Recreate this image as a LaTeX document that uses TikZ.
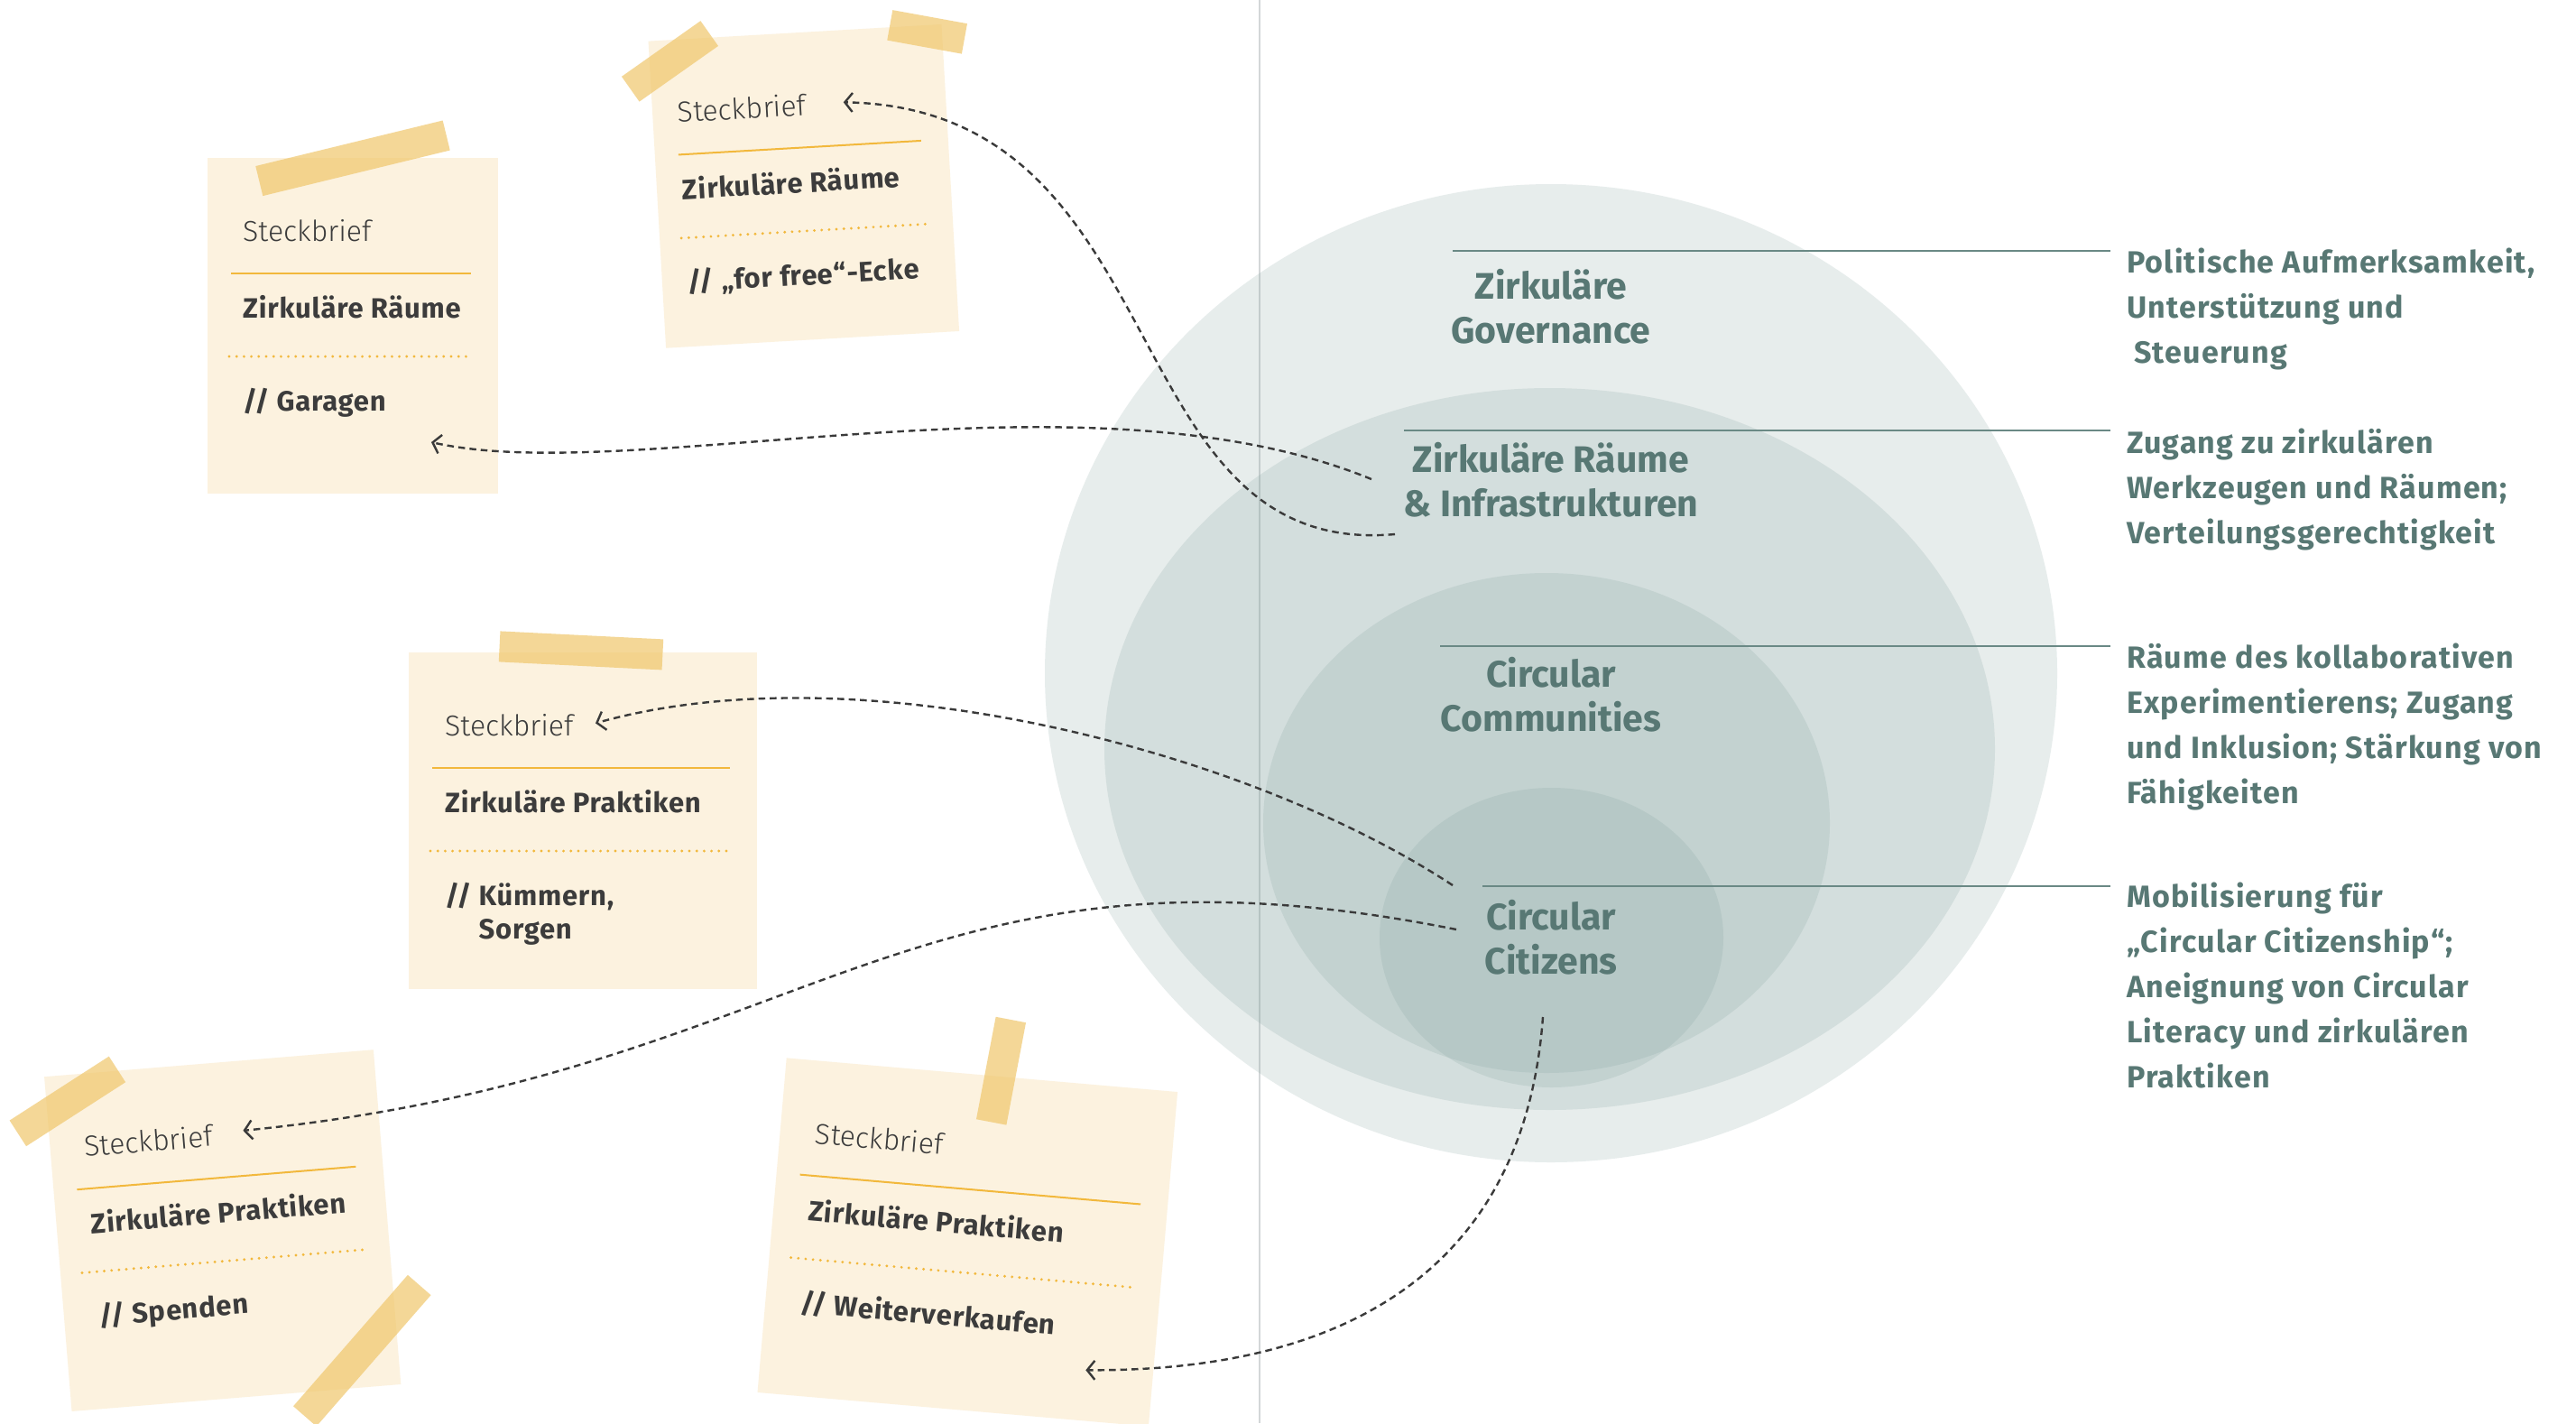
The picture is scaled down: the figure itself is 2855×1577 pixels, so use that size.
\documentclass[tikz,border=0pt]{standalone}
\usepackage{fontspec}
\setmainfont{Fira Sans}
\newfontfamily\descfont{Fira Sans}[LetterSpace=3.5]
\newfontfamily\notefont{Fira Sans}[LetterSpace=2.5]
\newfontfamily\headfont{Fira Sans Light}
\usetikzlibrary{arrows.meta}

\definecolor{ringfill}{HTML}{7D9D9A}
\definecolor{tealtext}{HTML}{587874}
\definecolor{ruleline}{HTML}{6A8985}
\definecolor{paper}{HTML}{FCF2DF}
\definecolor{tapecol}{HTML}{EFC567}
\definecolor{gold}{HTML}{F2B83C}
\definecolor{ink}{HTML}{3C3C3C}
\definecolor{connink}{HTML}{3A3A3A}
\definecolor{divline}{HTML}{D3D7D8}

% a sticky note: name, centre, rotation, width, height, text inset, title, item, arrow target (local)
\newcommand\notecard[9]{%
  \begin{scope}[shift={#2}, rotate=#3, transform shape]
    \begin{scope}[shift={(-#4/2,-#5/2)}]
      \node[paperbox, anchor=north west, minimum width=#4pt, minimum height=#5pt] (#1) at (0,0) {};
      \node[cardhead] (#1-head) at (#6,92) {Steckbrief};
      \draw[solidsep] (26,127.5) -- (#4-30,127.5);
      \node[cardtitle] (#1-title) at (#6,177.5) {#7};
      \draw[dotsep] (24,220) -- (#4-30,220);
      \node[cardtitle] (#1-item) at (#6,280) {#8};
      \coordinate (#1-tip) at #9;
    \end{scope}
  \end{scope}}

% a strip of adhesive tape: centre, rotation, length
\newcommand\tapestrip[3]{\fill[tape, shift={#1}, rotate=#2] (-#3/2,-17) rectangle (#3/2,17);}

\begin{document}
\begin{tikzpicture}[x=1pt,y=-1pt,
  ring/.style={fill=ringfill, fill opacity=0.18, draw=none},
  % multi-line nodes sit on the baseline of their last line
  ringlabel/.style={text=tealtext, font=\fontsize{41}{49}\selectfont\bfseries, align=center, anchor=base, inner sep=0pt},
  desc/.style={text=tealtext, font=\descfont\fontsize{34}{50}\selectfont\bfseries, align=left, anchor=base west, inner sep=0pt},
  rule/.style={draw=ruleline, line width=2pt},
  paperbox/.style={fill=paper, draw=none, inner sep=0pt, outer sep=0pt},
  tape/.style={fill=tapecol, fill opacity=0.68},
  solidsep/.style={draw=gold, line width=2pt},
  dotsep/.style={draw=gold, line width=3.2pt, line cap=round, dash pattern=on 0pt off 8.2pt},
  cardhead/.style={text=ink, font=\headfont\fontsize{32}{38}\selectfont, anchor=base west, inner sep=0pt},
  cardtitle/.style={text=ink, font=\notefont\fontsize{31}{37}\selectfont\bfseries, anchor=base west, inner sep=0pt},
  conn/.style={draw=connink, line width=2.4pt, dash pattern=on 7.5pt off 5pt, -{Straight Barb[length=8.5pt,width=21pt]}},
]
\useasboundingbox (0,0) rectangle (2855,1577);
\clip (0,0) rectangle (2855,1577);
\fill[white] (0,0) rectangle (2855,1577);

% separator between notes and model
\draw[draw=divline, line width=2pt] (1396,0) -- (1396,1577);

% nested rings
\path[ring] (1719,746) ellipse [x radius=561pt, y radius=542pt];
\path[ring] (1717.5,830) ellipse [x radius=493.5pt, y radius=400pt];
\path[ring] (1714,912) ellipse [x radius=314pt, y radius=277pt];
\path[ring] (1719.5,1039) ellipse [x radius=190.5pt, y radius=166pt];

% ring labels
\node[ringlabel] (gov) at (1719,380) {Zirkuläre\\Governance};
\node[ringlabel] (spaces) at (1719,572) {Zirkuläre Räume\\\& Infrastrukturen};
\node[ringlabel] (comm) at (1719,810) {Circular\\Communities};
\node[ringlabel] (cit) at (1719,1079) {Circular\\Citizens};

% leader rules
\draw[rule] (1610,277.5) coordinate (r1a) -- (2339,277.5) coordinate (r1b);
\draw[rule] (1556,476.5) coordinate (r2a) -- (2339,476.5) coordinate (r2b);
\draw[rule] (1596,716) coordinate (r3a) -- (2339,716) coordinate (r3b);
\draw[rule] (1643,982) coordinate (r4a) -- (2339,982) coordinate (r4b);

% descriptions
\node[desc] (d1) at (2357,402) {Politische Aufmerksamkeit,\\Unterstützung und\\\hspace*{8pt}Steuerung};
\node[desc] (d2) at (2357,602) {Zugang zu zirkulären\\Werkzeugen und Räumen;\\Verteilungsgerechtigkeit};
\node[desc] (d3) at (2357,890) {Räume des kollaborativen\\Experimentierens; Zugang\\und Inklusion; Stärkung von\\Fähigkeiten};
\node[desc] (d4) at (2357,1205) {Mobilisierung für\\„Circular Citizenship“;\\Aneignung von Circular\\Literacy und zirkulären\\Praktiken};

% sticky notes
\notecard{A}{(391,361)}{0}{322}{372}{39}{Zirkuläre Räume}{// Garagen}{(248,315)}
\tapestrip{(391,175.3)}{13.7}{213.5}

\notecard{B}{(890.8,206.3)}{3.3}{325.5}{340.6}{28}{Zirkuläre Räume}{// „for free“-Ecke}{(212,80)}
\tapestrip{(742.5,67.9)}{35.2}{107}
\tapestrip{(1027.6,35.4)}{-10.3}{84}

\notecard{C}{(646,909.5)}{0}{386}{373}{40}{Zirkuläre Praktiken}{// \begin{tabular}[t]{@{}l@{}}Kümmern,\\Sorgen\end{tabular}}{(207,78.4)}
\tapestrip{(644,720.9)}{-2.85}{181}

\notecard{D}{(246.7,1363.6)}{4.7}{366}{372}{38}{Zirkuläre Praktiken}{// Spenden}{(214.7,77.5)}
\tapestrip{(74.9,1220.4)}{32.8}{131}
\tapestrip{(401.3,1496.7)}{48.9}{193}

\notecard{E}{(1072.3,1376.5)}{-4.97}{435}{372}{39}{Zirkuläre Praktiken}{// Weiterverkaufen}{(360.3,315.9)}
\tapestrip{(1109.5,1186.7)}{79.2}{115.5}

% connector start points beside the ring labels
\coordinate (sA) at (1520,531);
\coordinate (sB) at (1546,592);
\coordinate (sC) at (1610,981);
\coordinate (sD) at (1614,1030);
\coordinate (sE) at (1710,1127);

\draw[conn] (sA) .. controls (1200,400) and (700,540) .. (A-tip);
\draw[conn] (sB) .. controls (1230,620) and (1310,120) .. (B-tip);
\draw[conn] (sC) .. controls (1380,830) and (950,720) .. (C-tip);
\draw[conn] (sD) .. controls (1004,908) and (901,1190) .. (D-tip);
\draw[conn] (sE) .. controls (1690,1400) and (1500,1520) .. (E-tip);
\end{tikzpicture}
\end{document}
